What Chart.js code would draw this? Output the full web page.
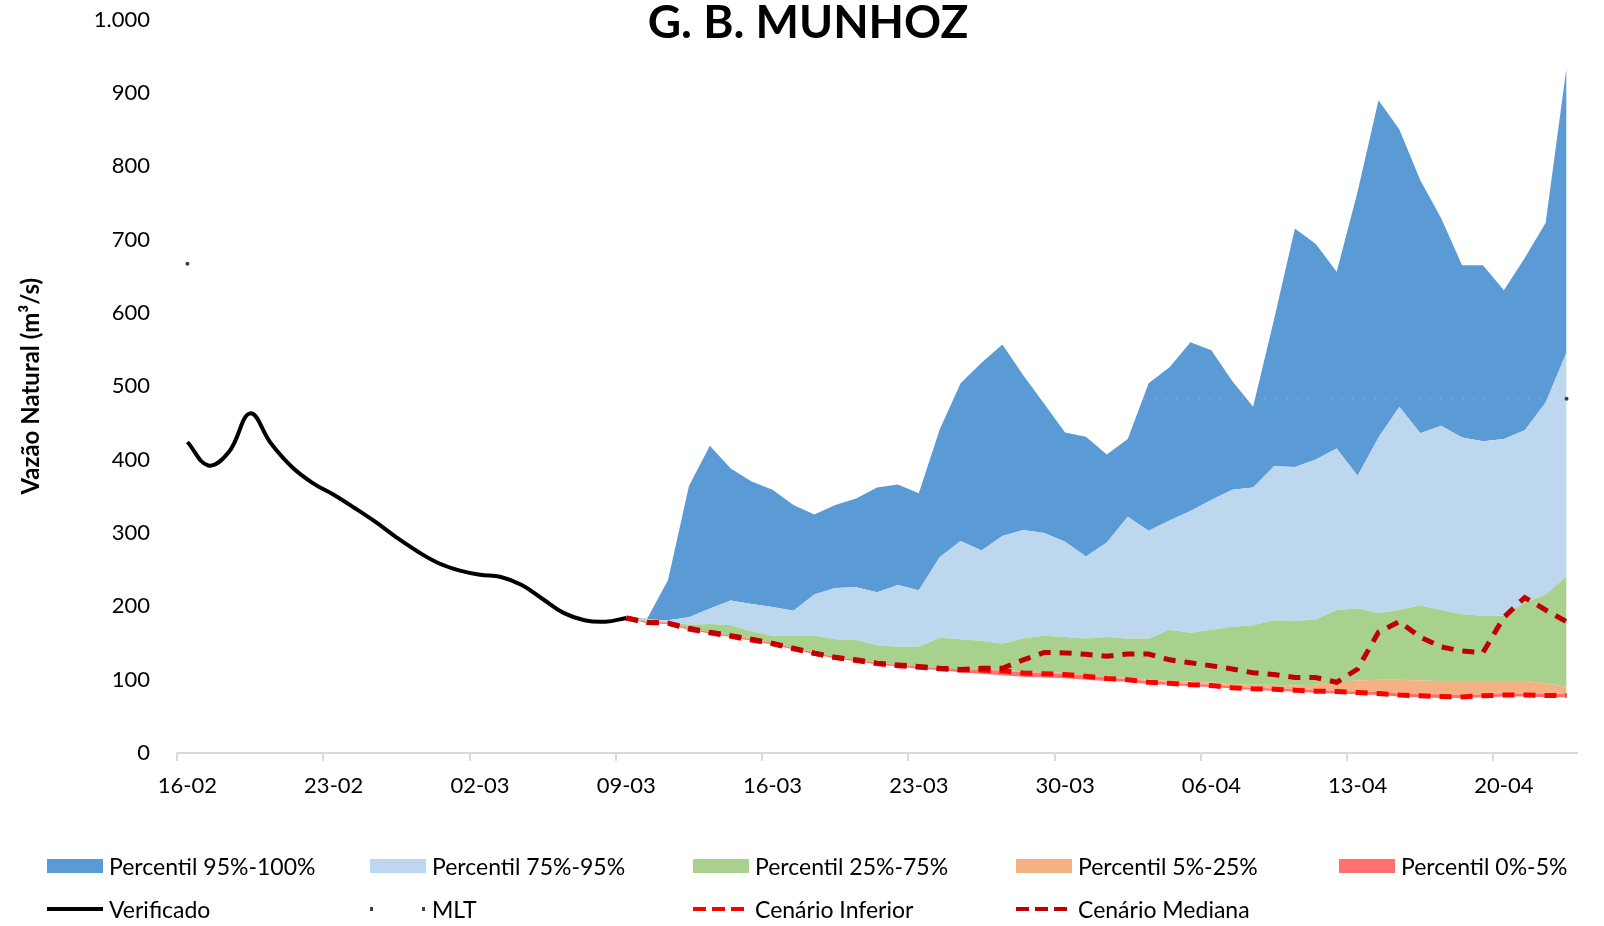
<!DOCTYPE html>
<html lang="pt-BR">
<head>
<meta charset="utf-8">
<title>G. B. MUNHOZ</title>
<script src="https://cdn.jsdelivr.net/npm/chart.js@4/dist/chart.umd.min.js"></script>
<style>
  html, body { margin: 0; padding: 0; background: #fff; }
  #wrap { position: relative; width: 1604px; height: 926px; overflow: hidden; }
  #grafico { position: absolute; left: 0; top: 0; }
  #legenda {
    position: absolute; left: 47px; top: 852px;
    display: grid; grid-template-columns: repeat(5, 323px); row-gap: 15px;
    font-family: Lato, sans-serif; font-size: 23px; color: #000;
  }
  .item { display: flex; align-items: center; height: 28px; white-space: nowrap; }
  .amostra { width: 56px; height: 14px; margin-right: 6px; flex: none; position: relative; }
  .ponto { position: absolute; top: 5px; width: 3px; height: 4px; background: #404040; }
</style>
</head>
<body>
<div id="wrap">
  <canvas id="grafico" width="1604" height="926"></canvas>
  <div id="legenda"></div>
</div>
<script>
const TITULO = "G. B. MUNHOZ";

const DATAS = [
  "16-02", "17-02", "18-02", "19-02", "20-02", "21-02", "22-02", "23-02", "24-02", "25-02", "26-02", "27-02", "28-02",
  "01-03", "02-03", "03-03", "04-03", "05-03", "06-03", "07-03", "08-03", "09-03", "10-03", "11-03", "12-03",
  "13-03", "14-03", "15-03", "16-03", "17-03", "18-03", "19-03", "20-03", "21-03", "22-03", "23-03", "24-03",
  "25-03", "26-03", "27-03", "28-03", "29-03", "30-03", "31-03",
  "01-04", "02-04", "03-04", "04-04", "05-04", "06-04", "07-04", "08-04", "09-04", "10-04", "11-04", "12-04",
  "13-04", "14-04", "15-04", "16-04", "17-04", "18-04", "19-04", "20-04", "21-04", "22-04", "23-04"
];

// vazao verificada, 16-02 a 09-03
const VERIFICADO = [424, 392, 411, 463, 422, 390, 368, 352, 334, 315, 294, 275, 259, 249, 243, 240, 229, 210, 191, 181, 179, 184];

// MLT por mes
const MLT_MES = { "02": 667, "03": 611, "04": 483 };

// previsao, 09-03 a 23-04
const INICIO_PREVISAO = 21;
const P100 = [184, 183, 236, 364, 419, 388, 370, 359, 338, 325, 338, 347, 362, 366, 354, 441, 504, 532, 557, 515, 476, 437, 431, 407, 428, 504, 526, 560, 549, 507, 472, 591, 715, 694, 656, 765, 890, 850, 781, 729, 665, 665, 631, 675, 723, 935];
const P95 = [184, 182, 181, 185, 197, 208, 203, 199, 194, 216, 225, 226, 219, 229, 222, 267, 289, 276, 296, 304, 300, 288, 268, 287, 322, 303, 317, 330, 345, 359, 362, 391, 390, 400, 415, 378, 430, 472, 436, 446, 430, 425, 428, 440, 478, 546];
const P75 = [184, 181, 178.5, 175, 176, 174, 166, 160, 160, 160, 155, 154, 147, 145, 145, 157, 155, 153, 149, 156, 160, 158, 156, 158, 156, 156, 168, 164, 168, 172, 174, 181, 180, 182, 195, 197, 191, 195, 201, 195, 189, 187, 187, 205, 216, 241];
const P25 = [184, 179, 178, 170, 165, 160, 155, 150, 143, 137, 131, 127, 123, 120, 118, 116, 114, 114, 113, 111, 110, 109, 107, 104, 103, 100, 99, 97, 96, 94, 93, 93, 92, 93, 97, 99, 100, 100, 99, 98, 98, 98, 98, 98, 95, 90];
const P5 = [184, 179, 178, 170, 165, 160, 155, 150, 143, 137, 131, 127, 123, 120, 118, 116, 114, 114, 112, 110, 109, 108, 106, 103, 101, 98, 96, 94, 93, 91, 89, 88, 87, 86, 85, 84, 83, 81, 80, 80, 79, 80, 81, 81, 81, 80];
const P0 = [184, 177, 176, 168, 163, 158, 153, 148, 141, 135, 129, 125, 121, 118, 115, 113, 110, 108, 106, 104, 103, 102, 100, 98, 97, 94, 93, 91, 90, 88, 86, 85, 84, 82, 81, 80, 79, 77, 76, 75, 75, 76, 77, 77, 76, 76];
const MEDIANA = [184, 178, 177, 170, 164.5, 160, 155, 149.5, 143, 136, 130.4, 127, 122.4, 120, 118, 115.4, 114, 115.4, 115.4, 127, 137, 136.5, 134.5, 132, 135, 135, 127, 123, 119, 114.5, 109.4, 107, 103, 103, 96.4, 114.5, 164.7, 179, 158, 144.7, 139, 137, 185, 212, 195, 179];
const INFERIOR = [184, 178, 177, 169, 164, 159, 154, 149, 142, 136, 130, 126, 122, 119, 117, 115, 113, 113, 112, 109, 108, 107, 104.5, 101.5, 100, 96.4, 95, 93, 92, 89, 87.5, 87, 85.6, 84.3, 83.7, 82.4, 81, 79, 78, 77, 76.5, 78, 79, 79, 78.4, 78.4];

const ORDEM_LEGENDA = [
  "Percentil 95%-100%", "Percentil 75%-95%", "Percentil 25%-75%", "Percentil 5%-25%", "Percentil 0%-5%",
  "Verificado", "MLT", "Cenário Inferior", "Cenário Mediana"
];

function previsao(valores) {
  return new Array(INICIO_PREVISAO).fill(null).concat(valores);
}

const verificado = VERIFICADO.concat(new Array(DATAS.length - VERIFICADO.length).fill(null));
const mlt = DATAS.map(d => MLT_MES[d.slice(3)]);
const ultimo = DATAS.length - 1;

function faixa(label, dados, cor) {
  return {
    label: label,
    data: previsao(dados),
    borderColor: "rgba(0,0,0,0)",
    borderWidth: 0,
    backgroundColor: cor,
    fill: "-1",
    pointRadius: 0
  };
}

const tituloPlugin = {
  id: "titulo",
  afterDraw(chart) {
    const c = chart.ctx;
    c.save();
    c.font = "bold 46px Lato";
    c.fillStyle = "#000";
    c.textAlign = "center";
    c.textBaseline = "middle";
    c.fillText(TITULO, 808, 23);
    c.restore();
  }
};

const fonteEixo = { family: "Lato", size: 22 };

const chart = new Chart(document.getElementById("grafico").getContext("2d"), {
  type: "line",
  data: {
    labels: DATAS,
    datasets: [
      {
        label: "Cenário Mediana",
        data: previsao(MEDIANA),
        borderColor: "#c00000",
        borderWidth: 5,
        borderDash: [12, 9],
        pointRadius: 0,
        fill: false
      },
      {
        label: "Cenário Inferior",
        data: previsao(INFERIOR),
        borderColor: "#ff0000",
        borderWidth: 5,
        borderDash: [12, 9],
        pointRadius: 0,
        fill: false
      },
      {
        label: "Verificado",
        data: verificado,
        borderColor: "#000",
        borderWidth: 4,
        tension: 0.4,
        pointRadius: 0,
        fill: false
      },
      {
        // no original a linha quase nao aparece, so as pontas
        label: "MLT",
        data: mlt,
        borderColor: "rgba(255,255,255,0.1)",
        borderWidth: 2,
        borderDash: [2, 9],
        pointRadius: ctx => (ctx.dataIndex === 0 || ctx.dataIndex === ultimo) ? 2 : 0,
        pointBackgroundColor: "#404040",
        pointBorderWidth: 0,
        fill: false
      },
      {
        label: "p0",
        data: previsao(P0),
        borderColor: "rgba(0,0,0,0)",
        borderWidth: 0,
        pointRadius: 0,
        fill: false
      },
      faixa("Percentil 0%-5%", P5, "#ff7070"),
      faixa("Percentil 5%-25%", P25, "#f4b183"),
      faixa("Percentil 25%-75%", P75, "#a9d18e"),
      faixa("Percentil 75%-95%", P95, "#bdd7ee"),
      faixa("Percentil 95%-100%", P100, "#5b9bd5")
    ]
  },
  options: {
    responsive: false,
    animation: false,
    locale: "pt-BR",
    layout: { padding: { left: 0, right: 27, top: 19.5, bottom: 123 } },
    plugins: {
      legend: { display: false },
      tooltip: { enabled: false }
    },
    scales: {
      x: {
        offset: true,
        grid: {
          offset: true,
          drawOnChartArea: false,
          tickLength: 8,
          lineWidth: 2,
          color: ctx => ctx.index % 7 === 0 ? "#d9d9d9" : "rgba(0,0,0,0)"
        },
        border: { color: "#d9d9d9", width: 2 },
        ticks: {
          autoSkip: false,
          maxRotation: 0,
          padding: 12,
          color: "#000",
          font: fonteEixo,
          callback: (v, i) => i % 7 === 0 ? DATAS[i] : ""
        },
        afterFit: s => { s.height = 50; }
      },
      y: {
        min: 0,
        max: 1000,
        ticks: { stepSize: 100, padding: 0, color: "#000", font: fonteEixo },
        // sem linhas; tickLength so afasta os rotulos do eixo
        grid: { display: false, drawTicks: true, tickLength: 27 },
        border: { display: false },
        title: {
          display: true,
          text: "Vazão Natural (m³/s)",
          color: "#000",
          font: { family: "Lato", size: 24, weight: "bold" },
          padding: { top: 17, bottom: 0 }
        },
        afterFit: s => { s.width = 177; }
      }
    }
  },
  plugins: [tituloPlugin]
});

// legenda em html, 5 colunas
function montarLegenda(ch) {
  const caixa = document.getElementById("legenda");
  ORDEM_LEGENDA.forEach(nome => {
    const ds = ch.data.datasets.find(d => d.label === nome);
    const item = document.createElement("div");
    item.className = "item";
    const amostra = document.createElement("span");
    amostra.className = "amostra";
    if (ds.fill) {
      amostra.style.background = ds.backgroundColor;
    } else if (nome === "MLT") {
      amostra.innerHTML = '<i class="ponto" style="left:0"></i><i class="ponto" style="left:52px"></i>';
    } else if (ds.borderDash) {
      amostra.style.height = "4px";
      amostra.style.background = "repeating-linear-gradient(90deg, " + ds.borderColor + " 0 13px, transparent 13px 19px)";
    } else {
      amostra.style.height = "4px";
      amostra.style.background = ds.borderColor;
    }
    item.appendChild(amostra);
    item.appendChild(document.createTextNode(nome));
    caixa.appendChild(item);
  });
}

montarLegenda(chart);
</script>
</body>
</html>
